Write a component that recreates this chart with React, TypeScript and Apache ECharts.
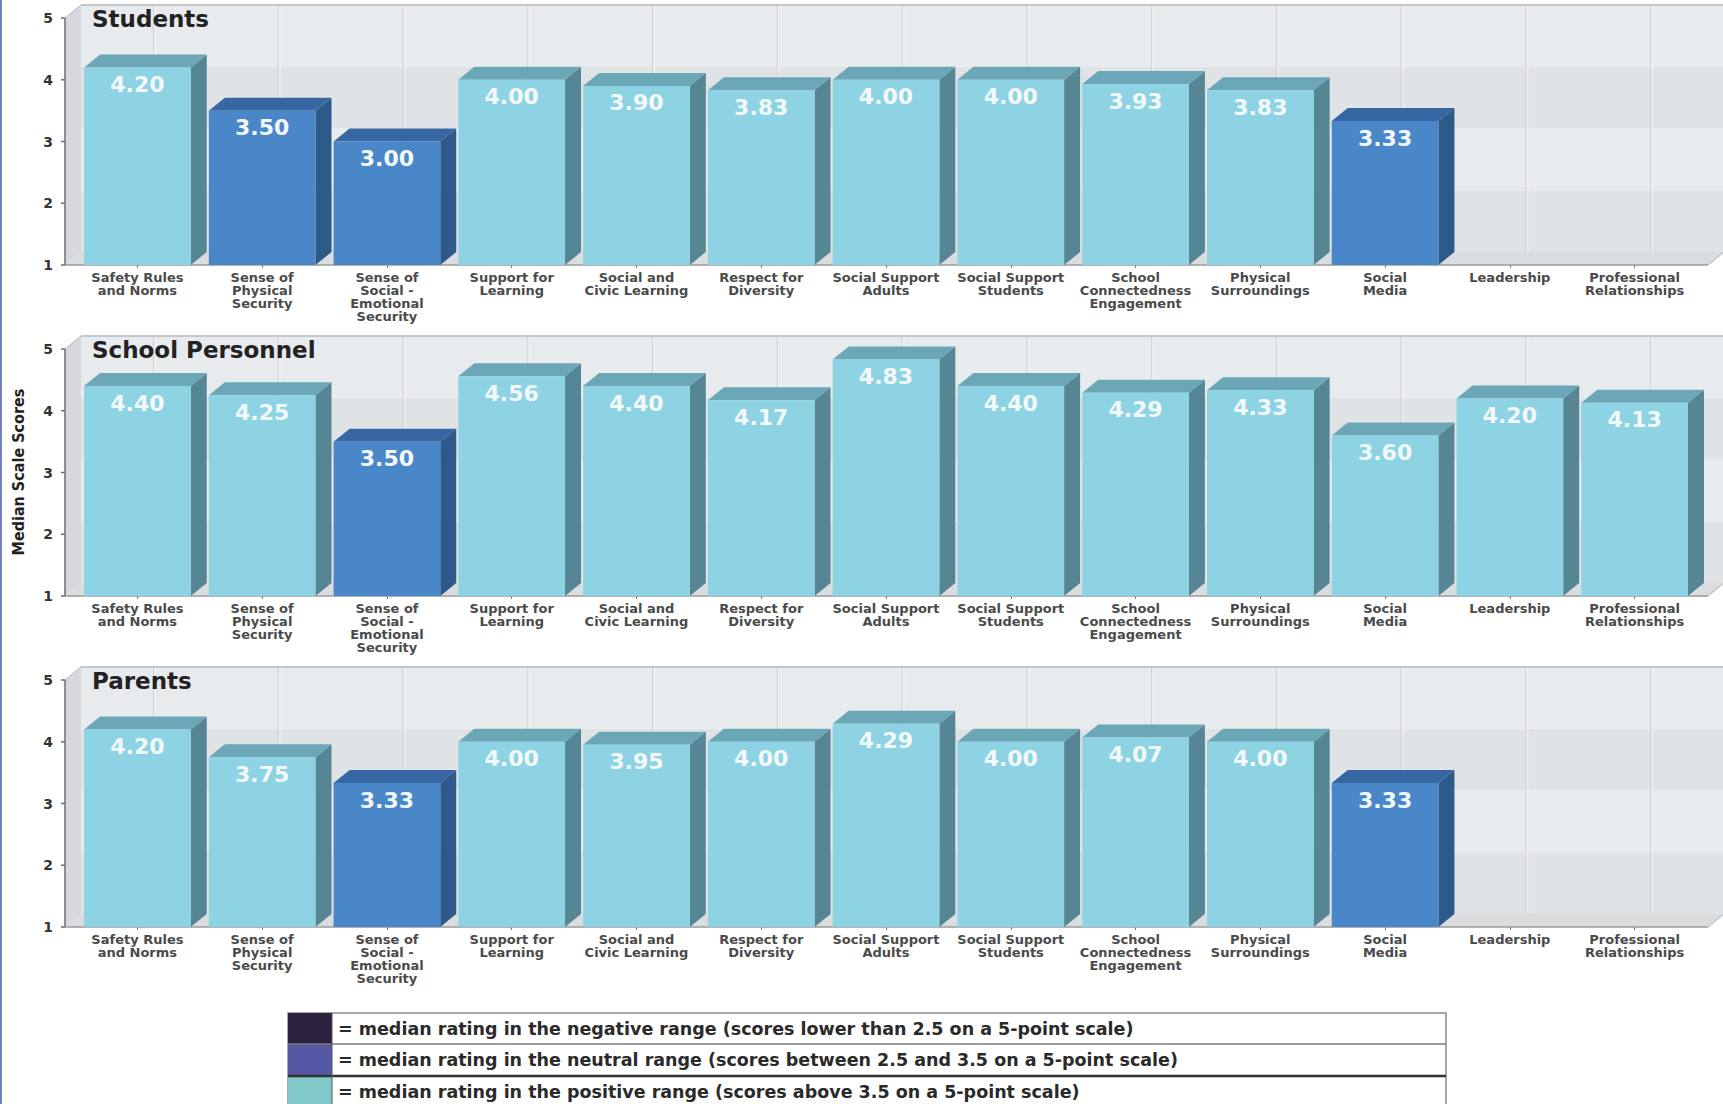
import React, { useEffect, useRef } from "react";
import * as echarts from "echarts";

// ---------- data ----------
const categories = [
  "Safety Rules\nand Norms",
  "Sense of\nPhysical\nSecurity",
  "Sense of\nSocial -\nEmotional\nSecurity",
  "Support for\nLearning",
  "Social and\nCivic Learning",
  "Respect for\nDiversity",
  "Social Support\nAdults",
  "Social Support\nStudents",
  "School\nConnectedness\nEngagement",
  "Physical\nSurroundings",
  "Social\nMedia",
  "Leadership",
  "Professional\nRelationships",
];

const studentsScores: (number | null)[] = [4.2, 3.5, 3.0, 4.0, 3.9, 3.83, 4.0, 4.0, 3.93, 3.83, 3.33, null, null];
const personnelScores: (number | null)[] = [4.4, 4.25, 3.5, 4.56, 4.4, 4.17, 4.83, 4.4, 4.29, 4.33, 3.6, 4.2, 4.13];
const parentsScores: (number | null)[] = [4.2, 3.75, 3.33, 4.0, 3.95, 4.0, 4.29, 4.0, 4.07, 4.0, 3.33, null, null];

const panelTitles = ["Students", "School Personnel", "Parents"];
const panelScores = [studentsScores, personnelScores, parentsScores];

const yMin = 1;
const yMax = 5;
const yInterval = 1;
const neutralMax = 3.5;

const legendTexts = [
  "= median rating in the negative range (scores lower than 2.5 on a 5-point scale)",
  "= median rating in the neutral range (scores between 2.5 and 3.5 on a 5-point scale)",
  "= median rating in the positive range (scores above 3.5 on a 5-point scale)",
];
const legendColors = ["#2c2240", "#5458a4", "#80c8ca"];
const yAxisName = "Median Scale Scores";

// ---------- styling / layout ----------
const W = 1723;
const H = 1104;
const DX = 16;
const DY = -13;
const GRID_LEFT = 75;
const GRID_W = 1622;
const GRID_H = 247;
const PANEL_TOPS = [18, 349, 680];
const FONT = '"DejaVu Sans", Verdana, sans-serif';

const lightBar = { front: "#8dd3e3", side: "#568693", top: "#6ba7b6" };
const darkBar = { front: "#4a87c8", side: "#2d5a89", top: "#3767a3" };

function renderFrame(params: any, api: any) {
  const cs = params.coordSys;
  const fx0 = cs.x - 10;
  const fx1 = cs.x + cs.width + 11;
  const yv = (v: number) => api.coord([0, v])[1];
  const y1 = yv(yMin);
  const y5 = yv(yMax);
  const children: any[] = [];
  for (let k = yMin; k < yMax; k += yInterval) {
    const ya = yv(k + yInterval) + DY;
    const yb = yv(k) + DY;
    children.push({
      type: "rect",
      shape: { x: fx0 + DX, y: ya, width: W - (fx0 + DX) + 10, height: yb - ya },
      style: { fill: k % 2 === 0 ? "#e8ebee" : "#e0e3e6" },
    });
  }
  for (let i = 0; i < categories.length; i++) {
    const x = api.coord([i, yMin])[0] + DX;
    children.push({
      type: "line",
      shape: { x1: x, y1: y5 + DY, x2: x, y2: y1 + DY },
      style: { stroke: "#cfd3d7", lineWidth: 1 },
    });
    children.push({
      type: "line",
      shape: { x1: x + 2, y1: y5 + DY, x2: x + 2, y2: y1 + DY },
      style: { stroke: "#f1f3f5", lineWidth: 1 },
    });
  }
  children.push({
    type: "polygon",
    shape: { points: [[fx0, y1], [fx0, y5], [fx0 + DX, y5 + DY], [fx0 + DX, y1 + DY]] },
    style: { fill: "#d5d8dc" },
  });
  children.push({
    type: "polygon",
    shape: { points: [[fx0, y1], [fx1, y1], [fx1 + DX, y1 + DY], [fx0 + DX, y1 + DY]] },
    style: { fill: "#dadde0" },
  });
  children.push({
    type: "line",
    shape: { x1: fx0 + DX, y1: y5 + DY, x2: W, y2: y5 + DY },
    style: { stroke: "#c4c7ca", lineWidth: 2 },
  });
  children.push({
    type: "line",
    shape: { x1: fx0, y1: y5, x2: fx0 + DX, y2: y5 + DY },
    style: { stroke: "#b8bbbe", lineWidth: 1 },
  });
  children.push({
    type: "line",
    shape: { x1: fx1, y1: y1, x2: fx1 + DX, y2: y1 + DY },
    style: { stroke: "#b0b3b6", lineWidth: 1 },
  });
  children.push({
    type: "line",
    shape: { x1: fx0, y1: y5, x2: fx0, y2: y1 },
    style: { stroke: "#6e6e6e", lineWidth: 1.5 },
  });
  children.push({
    type: "line",
    shape: { x1: fx0, y1: y1, x2: fx1, y2: y1 },
    style: { stroke: "#9a9a9a", lineWidth: 1.5 },
  });
  for (let k = yMin; k <= yMax; k += yInterval) {
    const y = yv(k);
    children.push({
      type: "line",
      shape: { x1: fx0 - 4, y1: y, x2: fx0, y2: y },
      style: { stroke: "#6e6e6e", lineWidth: 1.5 },
    });
  }
  return { type: "group", children };
}

function renderBar(params: any, api: any) {
  const i = api.value(0);
  const v = api.value(1);
  const top = api.coord([i, v]);
  const base = api.coord([i, yMin]);
  const cx = top[0];
  const ty = top[1];
  const by = base[1];
  const bw = api.size([1, 0])[0] * 0.855;
  const x0 = cx - bw / 2;
  const x1 = cx + bw / 2;
  const c = v <= neutralMax ? darkBar : lightBar;
  return {
    type: "group",
    children: [
      {
        type: "polygon",
        shape: { points: [[x1, by], [x1, ty], [x1 + DX, ty + DY], [x1 + DX, by + DY]] },
        style: { fill: c.side },
      },
      {
        type: "polygon",
        shape: { points: [[x0, ty], [x1, ty], [x1 + DX, ty + DY], [x0 + DX, ty + DY]] },
        style: { fill: c.top },
      },
      {
        type: "rect",
        shape: { x: x0, y: ty, width: bw, height: by - ty },
        style: { fill: c.front },
      },
      {
        type: "text",
        style: {
          text: v.toFixed(2),
          x: cx,
          y: ty + 17,
          align: "center",
          verticalAlign: "middle",
          fill: "#f3f9fb",
          fontSize: 22,
          fontWeight: "bold",
          fontFamily: FONT,
        },
      },
    ],
  };
}

export default function App() {
  const ref = useRef<HTMLDivElement>(null);
  useEffect(() => {
    if (!ref.current) return;
    const chart = echarts.init(ref.current, undefined, { renderer: "svg" });

    const grids: any[] = [];
    const xAxes: any[] = [];
    const yAxes: any[] = [];
    const series: any[] = [];
    const titles: any[] = [];

    PANEL_TOPS.forEach((top, p) => {
      grids.push({ left: GRID_LEFT, top, width: GRID_W, height: GRID_H });
      xAxes.push({
        type: "category",
        gridIndex: p,
        data: categories,
        boundaryGap: true,
        axisLine: { show: false },
        axisTick: { show: true, alignWithLabel: true, length: 3, lineStyle: { color: "#777" } },
        axisLabel: {
          interval: 0,
          margin: 6,
          color: "#4a4a4a",
          fontSize: 13,
          fontWeight: "bold",
          fontFamily: FONT,
          lineHeight: 13,
        },
        splitLine: { show: false },
      });
      yAxes.push({
        type: "value",
        gridIndex: p,
        min: yMin,
        max: yMax,
        interval: yInterval,
        axisLine: { show: false },
        axisTick: { show: false },
        splitLine: { show: false },
        axisLabel: {
          margin: 22,
          color: "#333",
          fontSize: 14,
          fontWeight: "bold",
          fontFamily: FONT,
        },
      });
      series.push({
        type: "custom",
        xAxisIndex: p,
        yAxisIndex: p,
        silent: true,
        z: 1,
        data: [[0, yMin]],
        encode: { x: 0, y: 1 },
        renderItem: renderFrame,
      });
      const scores = panelScores[p];
      series.push({
        type: "custom",
        name: panelTitles[p],
        xAxisIndex: p,
        yAxisIndex: p,
        z: 2,
        data: scores
          .map((v, i) => (v == null ? null : [i, v]))
          .filter((d) => d != null),
        encode: { x: 0, y: 1 },
        renderItem: renderBar,
      });
      titles.push({
        text: panelTitles[p],
        left: 92,
        top: top - 11,
        padding: 0,
        textStyle: { fontSize: 23, fontWeight: "bold", fontFamily: FONT, color: "#222" },
      });
    });

    const legendTop = 1013;
    const rowH = [31, 32, 32];
    const legendLeft = 288;
    const legendRight = 1446;
    const swatchW = 44;
    const legendChildren: any[] = [
      {
        type: "rect",
        shape: { x: legendLeft, y: legendTop, width: legendRight - legendLeft, height: 100 },
        style: { fill: "#ffffff", stroke: "#8a8a8a", lineWidth: 1.5 },
      },
    ];
    let yy = legendTop;
    legendTexts.forEach((t, i) => {
      legendChildren.push({
        type: "rect",
        shape: { x: legendLeft, y: yy, width: swatchW, height: rowH[i] },
        style: { fill: legendColors[i] },
      });
      legendChildren.push({
        type: "text",
        style: {
          text: t,
          x: legendLeft + swatchW + 6,
          y: yy + rowH[i] / 2,
          verticalAlign: "middle",
          align: "left",
          fill: "#2a2a2a",
          fontSize: 17.5,
          fontWeight: "bold",
          fontFamily: FONT,
        },
      });
      yy += rowH[i];
    });
    legendChildren.push({
      type: "line",
      shape: { x1: legendLeft, y1: legendTop + rowH[0], x2: legendRight, y2: legendTop + rowH[0] },
      style: { stroke: "#7a7a7a", lineWidth: 1.5 },
    });
    legendChildren.push({
      type: "line",
      shape: {
        x1: legendLeft,
        y1: legendTop + rowH[0] + rowH[1],
        x2: legendRight,
        y2: legendTop + rowH[0] + rowH[1],
      },
      style: { stroke: "#333333", lineWidth: 2.5 },
    });
    legendChildren.push({
      type: "line",
      shape: { x1: legendLeft + swatchW, y1: legendTop, x2: legendLeft + swatchW, y2: H },
      style: { stroke: "#555", lineWidth: 1 },
    });

    chart.setOption({
      animation: false,
      backgroundColor: "#ffffff",
      title: titles,
      grid: grids,
      xAxis: xAxes,
      yAxis: yAxes,
      series,
      graphic: [
        {
          type: "line",
          shape: { x1: 1, y1: 0, x2: 1, y2: H },
          style: { stroke: "#7383c2", lineWidth: 2 },
        },
        {
          type: "text",
          x: 18,
          y: 472,
          rotation: Math.PI / 2,
          style: {
            text: yAxisName,
            align: "center",
            verticalAlign: "middle",
            fill: "#222",
            fontSize: 16,
            fontWeight: "bold",
            fontFamily: '"Liberation Sans Narrow", "DejaVu Sans Condensed", "Arial Narrow", sans-serif',
          },
        },
        { type: "group", children: legendChildren },
      ],
    });
    return () => chart.dispose();
  }, []);
  return (
    <div
      ref={ref}
      style={{ position: "absolute", left: 0, top: 0, width: W, height: H, background: "#fff" }}
    />
  );
}
